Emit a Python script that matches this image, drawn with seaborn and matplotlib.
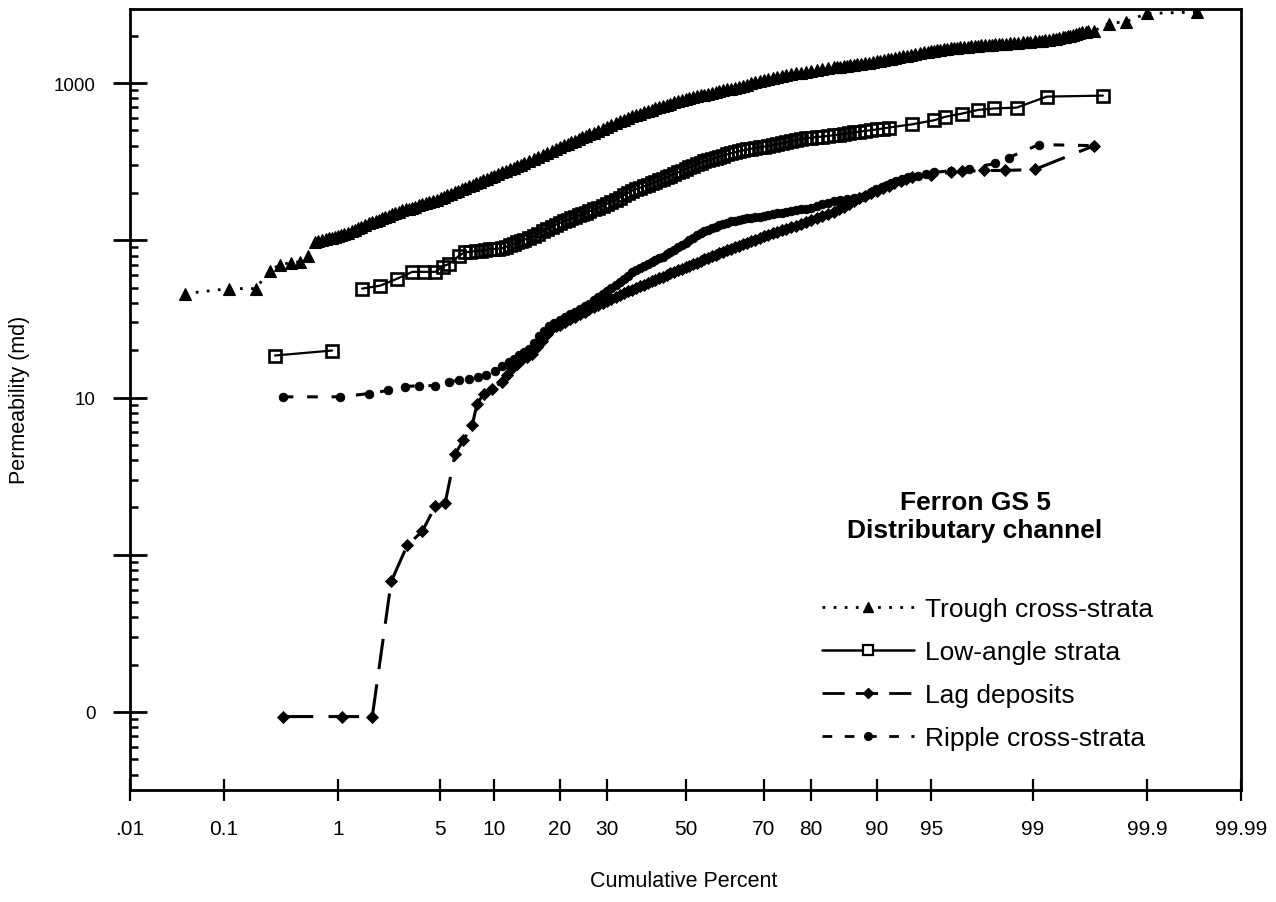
import math
from statistics import NormalDist

import numpy as np
import pandas as pd
import matplotlib
matplotlib.use("Agg")
import matplotlib.pyplot as plt
import seaborn as sns
from matplotlib.lines import Line2D
from matplotlib.ticker import (FixedLocator, FixedFormatter, LogLocator,
                               NullFormatter, NullLocator)

# ---------------- data (cumulative percent, permeability md) ----------------
trough_pct = [0.04, 0.113, 0.2, 0.27, 0.33, 0.41, 0.49, 0.58,
              0.66, 0.70, 0.75, 0.80, 0.85, 0.90, 0.95, 1.0, 1.05, 1.12,
              1.2, 1.27, 1.35, 1.42, 1.5, 1.6, 1.7, 1.8, 1.9, 2.0,
              2.1, 2.22, 2.35, 2.47, 2.6, 2.75, 2.9, 3.05, 3.2, 3.35,
              3.5, 3.7, 3.9, 4.1, 4.3, 4.55, 4.8, 5.05, 5.3, 5.55,
              5.8, 6.1, 6.4, 6.7, 7.0, 7.35, 7.7, 8.05, 8.4, 8.8,
              9.2, 9.6, 10, 10.5, 11, 11.5, 12, 12.5, 13, 13.5,
              14, 14.75, 15.5, 16.25, 17, 17.75, 18.5, 19.25, 20, 20.75,
              21.5, 22.25, 23, 23.75, 24.5, 25.25, 26, 27, 28, 29,
              30, 31, 32, 33, 34, 35, 36, 37, 38, 39,
              40, 41, 42, 43, 44, 45, 46, 47, 48, 49,
              50, 51, 52, 53, 54, 55, 56, 57, 58, 59,
              60, 61, 62, 63, 64, 65, 66, 67, 68, 69,
              70, 71, 72, 73, 74, 75, 76, 77, 78, 79,
              80, 81, 82, 83, 84, 84.5, 85, 85.5, 86, 86.5,
              87, 87.5, 88, 88.5, 89, 89.5, 90, 90.4, 90.8, 91.2,
              91.6, 92.0, 92.4, 92.75, 93.1, 93.45, 93.8, 94.15, 94.5, 94.75,
              95.0, 95.2, 95.4, 95.6, 95.8, 96.0, 96.2, 96.4, 96.55, 96.7,
              96.9, 97.05, 97.2, 97.35, 97.5, 97.62, 97.75, 97.88, 98.0, 98.1,
              98.2, 98.3, 98.4, 98.5, 98.6, 98.7, 98.8, 98.88, 98.95, 99.03,
              99.1, 99.15, 99.2, 99.25, 99.3, 99.34, 99.38, 99.42, 99.45, 99.48,
              99.5, 99.53, 99.55, 99.58, 99.6, 99.63, 99.65,
              99.69, 99.77, 99.84, 99.90, 99.969]
trough_md = [45.8, 49.3, 49.3, 64, 70, 72, 73, 80,
             98, 99, 100, 101.5, 103, 104, 105, 106.5, 108, 110,
             112, 114.5, 117, 119.5, 122, 125, 128, 130.5, 133, 135.5,
             138, 140.5, 143, 146, 149, 152, 155, 157, 159, 161.5,
             164, 167, 170, 172.5, 175, 178, 181, 185, 189, 193,
             197, 201.5, 206, 210.5, 215, 220, 225, 230, 235, 240.5,
             246, 251.5, 257, 263.5, 270, 276.5, 283, 289.5, 296, 302,
             308, 318.5, 329, 339.5, 350, 360.5, 371, 381, 391, 401,
             411, 421, 431, 441, 451, 461, 471, 484.5, 498, 512,
             526, 540.5, 555, 570, 585, 600, 615, 627.5, 640, 652.5,
             665, 677.5, 690, 703, 716, 728.5, 741, 753.5, 766, 777.5,
             789, 800, 811, 822.5, 834, 844.5, 855, 866, 877, 888,
             899, 911, 923, 935.5, 948, 963.5, 979, 994, 1009, 1025.5,
             1042, 1060.5, 1079, 1098, 1117, 1130, 1143, 1155, 1167, 1180,
             1194, 1209, 1225, 1240, 1256, 1264, 1273, 1282, 1291, 1300,
             1309, 1319, 1329, 1340, 1350, 1362, 1374, 1387, 1400, 1415,
             1430, 1448, 1466, 1480, 1495, 1512, 1530, 1550, 1570, 1584,
             1597, 1610, 1622, 1632, 1641, 1650, 1660, 1670, 1679, 1686,
             1694, 1702, 1710, 1718, 1726, 1734, 1742, 1750, 1758, 1764,
             1770, 1776, 1782, 1790, 1799, 1807, 1816, 1824, 1832, 1840,
             1849, 1860, 1871, 1888, 1905, 1920, 1936, 1954, 1972, 1989,
             2006, 2024, 2042, 2070, 2100, 2125, 2150,
             2150, 2390, 2460, 2770, 2830]

low1_pct = [0.30, 0.90]
low1_md = [18.5, 19.9]
low2_pct = [1.52, 2.05, 2.68, 3.37, 4.0, 4.7, 5.2, 5.7, 6.5,
            7.0, 7.5, 8.0, 8.5, 9.0, 9.5, 10, 10.5, 11, 11.5,
            12, 12.5, 13, 13.5, 14, 14.75, 15.5, 16.25, 17, 17.75,
            18.5, 19.25, 20, 20.75, 21.5, 22.25, 23, 23.75, 24.5, 25.25,
            26, 27, 28, 29, 30, 31, 32, 33, 34, 35,
            36, 37, 38, 39, 40, 41, 42, 43, 44, 45,
            46, 47, 48, 49, 50, 51, 52, 53, 54, 55,
            56, 57, 58, 59, 60, 61, 62, 63, 64, 65,
            66, 67, 68, 69, 70, 71, 72, 73, 74, 75,
            76, 77, 78, 79, 80, 81, 82, 83, 84, 84.75,
            85.5, 86.25, 87, 87.75, 88.5, 89.25, 90, 90.65, 91.3,
            93.5, 95.2, 95.9, 96.8, 97.5, 98.05, 98.67, 99.22, 99.74]
low2_md = [49.3, 51.5, 57, 63, 63, 63, 68, 71, 80,
           84, 84.5, 85.5, 86, 86.5, 87.5, 88, 88.5, 89, 91,
           93, 95, 97, 99, 101, 103.5, 106, 110, 114, 118,
           122, 125.5, 129, 132, 135, 138, 141, 144, 147, 150,
           153, 157, 161, 166, 171, 176, 181, 187, 193, 200,
           207, 211.5, 216, 220.5, 225, 230, 235, 240.5, 246, 252,
           258, 264, 270, 277, 284, 290.5, 297, 304.5, 312, 318,
           324, 329.5, 335, 340.5, 346, 352, 358, 363, 368, 373,
           378, 382, 386, 390, 394, 398.5, 403, 408.5, 414, 420.5,
           427, 434, 441, 445.5, 450, 453.5, 457, 461, 465, 470,
           475, 480, 485, 490.5, 496, 501.5, 507, 514, 521,
           546, 580, 610, 640, 675, 689, 698, 820, 832]

lag_pct = [0.35, 1.08, 1.80, 2.44, 3.12, 3.9, 4.69, 5.38, 6.16, 6.84,
           7.66, 8.15, 8.88, 9.78, 11.0, 11.6, 12.3, 13.0, 13.7, 14.4,
           15.2, 16.0, 16.9, 17.7, 18.6, 19.3,
           20, 21, 22, 23, 24, 25, 26, 27, 28, 29,
           30, 31, 32, 33, 34, 35, 36, 37, 38, 39,
           40, 41, 42, 43, 44, 45, 46, 47, 48, 49,
           50, 51, 52, 53, 54, 55, 56, 57, 58, 59,
           60, 61, 62, 63, 64, 65, 66, 67, 68, 69,
           70, 71, 72, 73, 74, 75, 76, 77, 78, 79,
           80, 81, 82, 83, 84, 84.75, 85.5, 86.25, 87, 87.75,
           88.5, 89.25, 90, 90.65, 91.3, 91.9, 92.5, 93, 93.5,
           95, 96.2, 96.8, 97.7, 98.37, 99.03, 99.69]
lag_md = [0.0935, 0.0935, 0.0935, 0.676, 1.146, 1.41, 2.03, 2.13, 4.4, 5.33,
          6.64, 9.16, 10.6, 11.4, 12.6, 13.9, 15.3, 16.4, 17.5, 18.2,
          19.0, 21, 23, 25.2, 27.5, 28.3,
          29.1, 30.3, 31.5, 32.7, 33.9, 35.1, 36.3, 37.4, 38.6, 39.8,
          41.1, 42.3, 43.5, 44.8, 46.1, 47.3, 48.5, 49.7, 50.9, 52.2,
          53.5, 54.7, 56.0, 57.3, 58.7, 60.1, 61.5, 62.9, 64.4, 65.9,
          67.4, 69.0, 70.6, 72.2, 73.8, 75.5, 77.2, 78.9, 80.7, 82.5,
          84.4, 86.3, 88.3, 90.4, 92.5, 94.6, 96.8, 98.9, 101, 103.5,
          106, 108.5, 111, 113.5, 116, 118.5, 121, 124, 127, 130.5,
          134, 138, 142, 146.5, 151, 157.5, 164, 171, 178, 184.5,
          191, 198.5, 206, 214, 222, 230, 238, 246, 254,
          262, 270, 274, 278, 278, 282, 400]

ripple_pct = [0.35, 1.04, 1.71, 2.33, 3.03, 3.73, 4.69, 5.68, 6.5, 7.38,
              8.2, 9.1, 10.1, 11.0, 11.9, 12.6, 13.3, 14.0, 14.8, 15.6,
              16.4, 17.2, 18, 19,
              20, 21, 22, 23, 24, 25, 26, 27, 28, 29,
              30, 31, 32, 33, 34, 35, 36, 37, 38, 39,
              40, 41, 42, 43, 44, 45, 46, 47, 48, 49,
              50, 51, 52, 53, 54, 55, 56, 57, 58, 59,
              60, 61, 62, 63, 64, 65, 66, 67, 68, 69,
              70, 71, 72, 73, 74, 75, 76, 77, 78, 79,
              80, 81, 82, 83, 84, 85, 86, 87, 88, 88.65,
              89.3, 89.95, 90.6, 91.1, 91.6, 92.1, 92.6, 93.3, 94, 94.6,
              95.2, 96.2, 97.1, 98.1, 98.48, 99.1, 99.69]
ripple_md = [10.1, 10.1, 10.6, 11.1, 11.75, 11.9, 11.9, 12.6, 12.9, 13.2,
             13.5, 14.0, 14.8, 15.8, 16.9, 17.7, 18.6, 19.5, 20.5, 22.3,
             24.5, 26.5, 28.5, 29.9,
             31.2, 32.5, 33.8, 35.1, 36.5, 38, 39.6, 41.5, 43.4, 45.4,
             47.5, 49.6, 51.8, 54.4, 57, 59.7, 62.4, 64.6, 66.9, 68.7,
             70.6, 72.6, 74.6, 76.7, 78.8, 81.4, 84.1, 87.2, 90.3, 93.5,
             96.8, 100.4, 104, 107.5, 111, 114, 117, 119.5, 122, 124.5,
             127, 129.5, 132, 133.5, 135, 136.5, 138, 139, 140, 141.5,
             143, 145, 147, 148.5, 150, 152, 154, 155.5, 157, 159,
             161, 165, 169, 173, 177, 179.5, 182, 185.5, 189, 195.5,
             202, 210.5, 219, 225.5, 232, 239.5, 247, 252.5, 258, 264,
             270, 277, 286, 308, 336, 406, 400]

x_ticks = [0.01, 0.1, 1, 5, 10, 20, 30, 50, 70, 80, 90, 95, 99, 99.9, 99.99]
x_labels = [".01", "0.1", "1", "5", "10", "20", "30", "50", "70", "80",
            "90", "95", "99", "99.9", "99.99"]
y_ticks = [0.1, 1, 10, 100, 1000]
y_labels = ["0", "", "10", "", "1000"]

legend_labels = ["Trough cross-strata", "Low-angle strata", "Lag deposits",
                 "Ripple cross-strata"]
title_text = "Ferron GS 5\nDistributary channel"

# ---------------- probability (normal quantile) scale ----------------
_nd = NormalDist()


def _fwd(p):
    a = np.asarray(p, dtype=float)
    flat = a.ravel()
    out = np.empty(flat.shape, dtype=float)
    for i, v in enumerate(flat):
        if not np.isfinite(v):
            out[i] = np.nan
        else:
            q = min(max(v / 100.0, 1e-12), 1 - 1e-12)
            out[i] = _nd.inv_cdf(q)
    return out.reshape(a.shape)


def _inv(z):
    a = np.asarray(z, dtype=float)
    flat = a.ravel()
    out = np.empty(flat.shape, dtype=float)
    for i, v in enumerate(flat):
        out[i] = 100.0 * 0.5 * (1 + math.erf(v / math.sqrt(2))) if np.isfinite(v) else np.nan
    return out.reshape(a.shape)


# ---------------- figure ----------------
sns.set_style("white")
plt.rcParams["font.family"] = ["Liberation Sans", "DejaVu Sans"]
for k in ["text.color", "axes.labelcolor", "xtick.color", "ytick.color",
          "axes.edgecolor"]:
    plt.rcParams[k] = "black"

W, H = 1276, 903
fig = plt.figure(figsize=(W / 100, H / 100), dpi=100)
L, R, T, B = 130, 1241, 10, 791
ax = fig.add_axes([L / W, 1 - B / H, (R - L) / W, (B - T) / H])
ax.set_xscale("function", functions=(_fwd, _inv))
ax.set_yscale("log")

common = dict(ax=ax, x="pct", y="md", estimator=None, sort=False,
              color="black", legend=False)

df_t = pd.DataFrame({"pct": trough_pct, "md": trough_md})
sns.lineplot(data=df_t, linestyle=(0, (1, 3)), linewidth=2.0,
             marker="^", markersize=8.5, markerfacecolor="black",
             markeredgecolor="black", markeredgewidth=0.8, **common)

for xs, ys in [(low1_pct, low1_md), (low2_pct, low2_md)]:
    df_l = pd.DataFrame({"pct": xs, "md": ys})
    sns.lineplot(data=df_l, linestyle="-", linewidth=1.6,
                 marker="s", markersize=8, markerfacecolor="none",
                 markeredgecolor="black", markeredgewidth=1.9, **common)

df_g = pd.DataFrame({"pct": lag_pct, "md": lag_md})
sns.lineplot(data=df_g, linestyle=(0, (10, 5)), linewidth=2.2,
             marker="D", markersize=6.2, markerfacecolor="black",
             markeredgecolor="black", markeredgewidth=0.6, **common)

df_r = pd.DataFrame({"pct": ripple_pct, "md": ripple_md})
sns.lineplot(data=df_r, linestyle=(0, (3.5, 4.5)), linewidth=2.2,
             marker="o", markersize=6.2, markerfacecolor="black",
             markeredgecolor="black", markeredgewidth=0.6, **common)

ax.set_xlim(0.01, 99.99)
ax.set_ylim(0.0319, 2958)

ax.xaxis.set_major_locator(FixedLocator(x_ticks))
ax.xaxis.set_major_formatter(FixedFormatter(x_labels))
ax.xaxis.set_minor_locator(NullLocator())
ax.yaxis.set_major_locator(FixedLocator(y_ticks))
ax.yaxis.set_major_formatter(FixedFormatter(y_labels))
ax.yaxis.set_minor_locator(LogLocator(base=10, subs=np.arange(2, 10) * 1.0, numticks=30))
ax.yaxis.set_minor_formatter(NullFormatter())

ax.tick_params(axis="y", which="major", direction="inout", length=24, width=2.0,
               labelsize=13.5, pad=12.5, left=True, right=False)
ax.tick_params(axis="y", which="minor", direction="in", length=6, width=1.8,
               left=True, right=False)
ax.tick_params(axis="x", which="major", direction="inout", length=16, width=1.6,
               labelsize=15, pad=13, bottom=True, top=False)
for s in ax.spines.values():
    s.set_linewidth(2.0)
    s.set_color("black")
ax.set_xlabel("")
ax.set_ylabel("")

fig.text(684 / W, 1 - 882 / H, "Cumulative Percent", ha="center", va="center",
         fontsize=15.5)
fig.text(20 / W, 1 - 400 / H, "Permeability (md)", ha="center", va="center",
         rotation=90, fontsize=15.5)

# title block & legend
fig.text(975 / W, 1 - 517 / H, title_text, ha="center", va="center",
         fontsize=19, fontweight="bold", linespacing=1.18)

handles = [
    Line2D([], [], color="black", linestyle=(0, (1, 3)), linewidth=2.0,
           marker="^", markersize=7.5, markerfacecolor="black"),
    Line2D([], [], color="black", linestyle="-", linewidth=1.8,
           marker="s", markersize=7, markerfacecolor="white",
           markeredgecolor="black", markeredgewidth=1.6),
    Line2D([], [], color="black", linestyle=(0, (8, 4)), linewidth=2.0,
           marker="D", markersize=5.5, markerfacecolor="black"),
    Line2D([], [], color="black", linestyle=(0, (3.5, 4.5)), linewidth=2.0,
           marker="o", markersize=5.5, markerfacecolor="black"),
]
fig.legend(handles, legend_labels, loc="upper left",
           bbox_to_anchor=(822 / W, 1 - 598 / H), bbox_transform=fig.transFigure,
           frameon=False, fontsize=19, handlelength=3.5, handletextpad=0.4,
           labelspacing=0.72, borderpad=0, borderaxespad=0, numpoints=1)

fig.savefig("out.png", dpi=100)
